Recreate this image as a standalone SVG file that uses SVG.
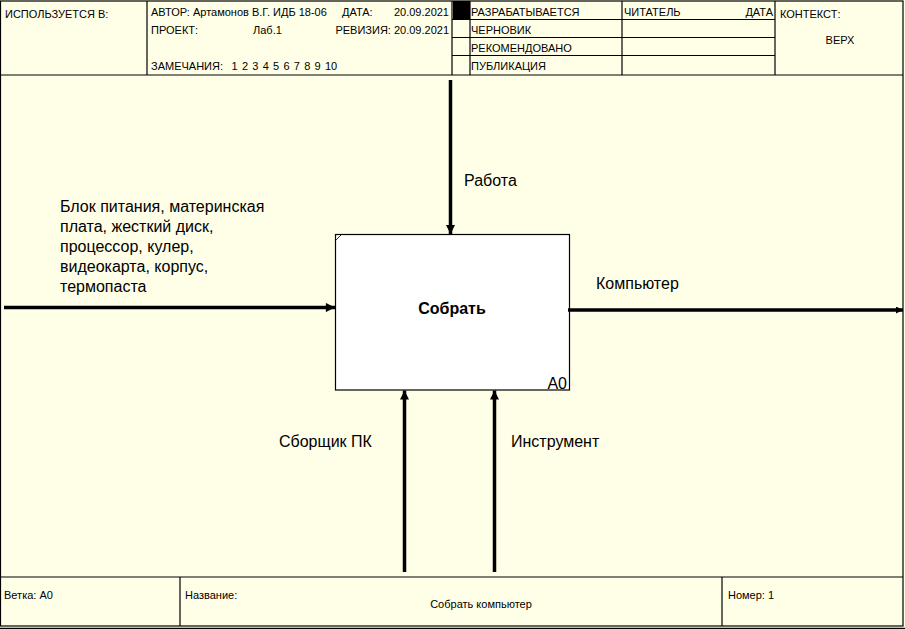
<svg xmlns="http://www.w3.org/2000/svg" width="905" height="629" viewBox="0 0 905 629">
<defs>
<style>
.f{fill:none;stroke:#000;stroke-width:1.2}
.s{font-family:"Liberation Sans",Arial,sans-serif;font-size:11px;fill:#000}
.l{font-family:"Liberation Sans",Arial,sans-serif;font-size:16px;fill:#000}
.a{stroke:#000;stroke-width:3.5;fill:none}
</style>
<marker id="ah" viewBox="0 0 10 10" refX="10" refY="5" markerWidth="3" markerHeight="2.6" orient="auto" markerUnits="strokeWidth">
<path d="M0,0 L10,5 L0,10 z" fill="#000"/>
</marker>
<marker id="ahs" viewBox="0 0 10 10" refX="10" refY="5" markerWidth="2.4" markerHeight="2" orient="auto" markerUnits="strokeWidth">
<path d="M0,0 L10,5 L0,10 z" fill="#000"/>
</marker>
</defs>
<rect x="0" y="0" width="905" height="629" fill="#FFFFE8"/>
<g id="frame">
<rect x="0.5" y="1" width="902.5" height="625" class="f"/>
<line x1="0" y1="628.3" x2="905" y2="628.3" class="f"/>
<line x1="0" y1="75" x2="903" y2="75" class="f"/>
<line x1="147" y1="1" x2="147" y2="75" class="f"/>
<line x1="452" y1="1" x2="452" y2="75" class="f"/>
<line x1="470" y1="1" x2="470" y2="75" class="f"/>
<line x1="622" y1="1" x2="622" y2="75" class="f"/>
<line x1="775" y1="1" x2="775" y2="75" class="f"/>
<line x1="452" y1="19.5" x2="775" y2="19.5" class="f"/>
<line x1="452" y1="37.5" x2="775" y2="37.5" class="f"/>
<line x1="452" y1="55.5" x2="775" y2="55.5" class="f"/>
<rect x="453" y="1" width="17" height="18.5" fill="#000"/>
<line x1="0" y1="577" x2="903" y2="577" class="f"/>
<line x1="180" y1="577" x2="180" y2="626" class="f"/>
<line x1="722" y1="577" x2="722" y2="626" class="f"/>
</g>
<g id="header-text">
<text x="5" y="18" class="s">ИСПОЛЬЗУЕТСЯ В:</text>
<text x="151" y="16" class="s">АВТОР: Артамонов В.Г. ИДБ 18-06</text>
<text x="342" y="16" class="s">ДАТА:</text>
<text x="449" y="16" class="s" text-anchor="end">20.09.2021</text>
<text x="151" y="34" class="s">ПРОЕКТ:</text>
<text x="253" y="34" class="s">Лаб.1</text>
<text x="449" y="34" class="s" text-anchor="end">РЕВИЗИЯ: 20.09.2021</text>
<text x="151" y="70" class="s" xml:space="preserve" word-spacing="1.2">ЗАМЕЧАНИЯ:  1 2 3 4 5 6 7 8 9 10</text>
<text x="471" y="16" class="s">РАЗРАБАТЫВАЕТСЯ</text>
<text x="471" y="34" class="s">ЧЕРНОВИК</text>
<text x="471" y="52" class="s">РЕКОМЕНДОВАНО</text>
<text x="471" y="70" class="s">ПУБЛИКАЦИЯ</text>
<text x="624" y="16" class="s">ЧИТАТЕЛЬ</text>
<text x="773" y="16" class="s" text-anchor="end">ДАТА</text>
<text x="780" y="18" class="s">КОНТЕКСТ:</text>
<text x="840" y="44" class="s" text-anchor="middle">ВЕРХ</text>
</g>
<g id="footer-text">
<text x="4" y="599" class="s">Ветка: А0</text>
<text x="185" y="599" class="s">Название:</text>
<text x="481" y="608" class="s" text-anchor="middle" font-size="12">Собрать компьютер</text>
<text x="728" y="599" class="s">Номер: 1</text>
</g>
<g id="node-A0">
<rect x="335.5" y="234.5" width="234" height="155.5" fill="#fff" stroke="#000" stroke-width="1.2"/>
<line x1="336" y1="240" x2="341" y2="235" stroke="#000" stroke-width="0.8"/>
<text x="452" y="314" font-family="Liberation Sans,Arial,sans-serif" font-size="16" font-weight="bold" text-anchor="middle">Собрать</text>
<text x="567" y="389" font-family="Liberation Sans,Arial,sans-serif" font-size="16" text-anchor="end">A0</text>
</g>
<g id="connectors">
<line x1="450.5" y1="80" x2="450.5" y2="234" class="a" marker-end="url(#ah)"/>
<line x1="4" y1="307.5" x2="335" y2="307.5" class="a" marker-end="url(#ah)"/>
<line x1="568" y1="310" x2="903" y2="310" class="a" marker-end="url(#ahs)"/>
<line x1="404.5" y1="572" x2="404.5" y2="390.5" class="a" marker-end="url(#ah)"/>
<line x1="494.5" y1="572" x2="494.5" y2="390.5" class="a" marker-end="url(#ah)"/>
</g>
<g id="labels">
<text x="464" y="186" class="l">Работа</text>
<text x="60" y="212" class="l">Блок питания, материнская</text>
<text x="60" y="232" class="l">плата, жесткий диск,</text>
<text x="60" y="252" class="l">процессор, кулер,</text>
<text x="60" y="272" class="l">видеокарта, корпус,</text>
<text x="60" y="292" class="l">термопаста</text>
<text x="596" y="289" class="l">Компьютер</text>
<text x="279" y="447" class="l">Сборщик ПК</text>
<text x="511" y="447" class="l">Инструмент</text>
</g>
</svg>
